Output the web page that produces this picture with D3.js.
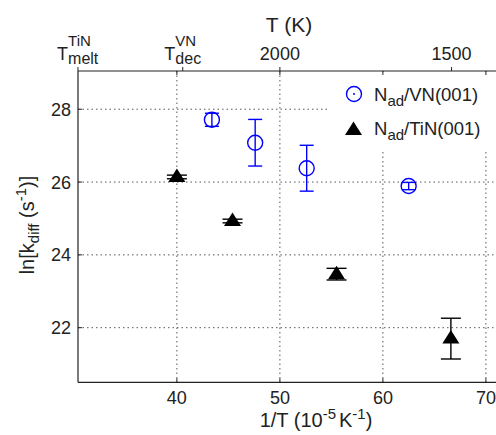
<!DOCTYPE html>
<html>
<head>
<meta charset="utf-8">
<script src="https://cdn.jsdelivr.net/npm/d3@7"></script>
<style>
body{margin:0;background:#fff;}
svg{display:block;font-family:"Liberation Sans",Arial,sans-serif;}
</style>
</head>
<body>
<svg id="chart" width="496" height="435"></svg>
<script>
// data
const inv_t_vn=[43.4,47.6,52.6,62.5];
const lnk_vn=[27.71,27.08,26.38,25.89];
const err_vn=[0.18,0.64,0.63,0.10];

const inv_t_tin=[40.0,45.4,55.5,66.6];
const lnk_tin=[26.14,24.93,23.47,21.70];
const err_tin=[0.05,0.05,0.16,0.56];

const x_ticks=[40,50,60,70];
const y_ticks=[22,24,26,28];
// top axis: temperatures (K)
const t_ticks=[3290,2465,2000,1500];
const t_labels=[["T","TiN","melt"],["T","VN","dec"],["2000"],["1500"]];

const svg=d3.select("#chart");
const plot_left=78, plot_top=71, plot_bottom=382.3, plot_right=509.6;

const x=d3.scaleLinear().domain([30.4,72.3]).range([plot_left,plot_right]);
const y=d3.scaleLinear().domain([20.5,29.05]).range([plot_bottom,plot_top]);

const ink="#222";
const grid_color="#444";
const small=15;

// grid
for (const t of x_ticks){
    svg.append("line")
        .attr("x1",x(t)).attr("x2",x(t))
        .attr("y1",plot_top).attr("y2",plot_bottom)
        .attr("stroke",grid_color).attr("stroke-width",0.9)
        .attr("stroke-dasharray","1.5,3");
}
for (const v of y_ticks){
    svg.append("line")
        .attr("x1",plot_left).attr("x2",plot_right)
        .attr("y1",y(v)).attr("y2",y(v))
        .attr("stroke",grid_color).attr("stroke-width",0.9)
        .attr("stroke-dasharray","1.5,3");
}

// legend background hides grid
svg.append("rect")
    .attr("x",330).attr("y",plot_top+1)
    .attr("width",200).attr("height",78)
    .attr("fill","#fff");

// spines
svg.append("line").attr("x1",plot_left).attr("x2",plot_left).attr("y1",plot_top).attr("y2",plot_bottom)
    .attr("stroke",ink).attr("stroke-width",1.2);
svg.append("line").attr("x1",plot_left).attr("x2",plot_right).attr("y1",plot_bottom).attr("y2",plot_bottom)
    .attr("stroke",ink).attr("stroke-width",1.2);
svg.append("line").attr("x1",plot_left).attr("x2",plot_right).attr("y1",plot_top).attr("y2",plot_top)
    .attr("stroke",ink).attr("stroke-width",1.2);

// bottom ticks + mirrored ticks on top
for (const t of x_ticks){
    svg.append("line").attr("x1",x(t)).attr("x2",x(t)).attr("y1",plot_bottom).attr("y2",plot_bottom-4)
        .attr("stroke",ink).attr("stroke-width",1);
    svg.append("line").attr("x1",x(t)).attr("x2",x(t)).attr("y1",plot_top).attr("y2",plot_top+4)
        .attr("stroke",ink).attr("stroke-width",1);
    svg.append("text").attr("x",x(t)).attr("y",plot_bottom+22)
        .attr("text-anchor","middle").attr("font-size",18).attr("fill",ink)
        .text(t);
}
for (const v of y_ticks){
    svg.append("line").attr("x1",plot_left).attr("x2",plot_left+4).attr("y1",y(v)).attr("y2",y(v))
        .attr("stroke",ink).attr("stroke-width",1);
    svg.append("text").attr("x",plot_left-7).attr("y",y(v)+6.5)
        .attr("text-anchor","end").attr("font-size",18).attr("fill",ink)
        .text(v);
}

// top axis in temperature
t_ticks.forEach((T,i)=>{
    const px=x(1e5/T);
    svg.append("line").attr("x1",px).attr("x2",px).attr("y1",plot_top).attr("y2",plot_top-4)
        .attr("stroke",ink).attr("stroke-width",1);
    const lab=t_labels[i];
    if (lab.length===1){
        svg.append("text").attr("x",px).attr("y",60)
            .attr("text-anchor","middle").attr("font-size",18).attr("fill",ink)
            .text(lab[0]);
    } else {
        const g=svg.append("g");
        const main=g.append("text").attr("x",0).attr("y",60)
            .attr("font-size",18).attr("fill",ink).text(lab[0]);
        const w=main.node().getComputedTextLength();
        g.append("text").attr("x",w).attr("y",46)
            .attr("font-size",small).attr("fill",ink).text(lab[1]);
        g.append("text").attr("x",w).attr("y",64)
            .attr("font-size",small+1).attr("fill",ink).text(lab[2]);
        const bb=g.node().getBBox();
        g.attr("transform","translate("+(px-bb.width/2)+",0)");
    }
});

// axis titles
svg.append("text").attr("x",289).attr("y",32)
    .attr("text-anchor","middle").attr("font-size",21).attr("fill",ink)
    .text("T (K)");

const xl=svg.append("text").attr("x",316).attr("y",427)
    .attr("text-anchor","middle").attr("font-size",20).attr("fill",ink);
xl.append("tspan").text("1/T (10");
xl.append("tspan").attr("dy",-8).attr("font-size",small).text("-5");
xl.append("tspan").attr("dy",8).attr("dx",3).text("K");
xl.append("tspan").attr("dy",-8).attr("font-size",small).text("-1");
xl.append("tspan").attr("dy",8).text(")");

const yl=svg.append("text").attr("transform","translate(34,225) rotate(-90)")
    .attr("text-anchor","middle").attr("font-size",20).attr("fill",ink);
yl.append("tspan").text("ln[k");
yl.append("tspan").attr("dy",5).attr("font-size",small).text("diff");
yl.append("tspan").attr("dy",-5).text(" (s");
yl.append("tspan").attr("dy",-8).attr("font-size",small).text("-1");
yl.append("tspan").attr("dy",8).text(")]");

// triangle marker path, offset so the data point sits a bit below the centre
function tri(cx,cy){
    return "M"+cx+","+(cy-8.5)+"L"+(cx+8.5)+","+(cy+5)+"L"+(cx-8.5)+","+(cy+5)+"Z";
}

function errbar(cx,v,e,cap,color){
    const y1=y(v-e), y2=y(v+e);
    svg.append("line").attr("x1",cx).attr("x2",cx).attr("y1",y1).attr("y2",y2)
        .attr("stroke",color).attr("stroke-width",1.4);
    for (const yy of [y1,y2]){
        svg.append("line").attr("x1",cx-cap/2).attr("x2",cx+cap/2).attr("y1",yy).attr("y2",yy)
            .attr("stroke",color).attr("stroke-width",1.4);
    }
}

// VN series
const blue="#0000ff";
inv_t_vn.forEach((t,i)=>{
    errbar(x(t),lnk_vn[i],err_vn[i],14,blue);
    svg.append("circle").attr("cx",x(t)).attr("cy",y(lnk_vn[i])).attr("r",7.5)
        .attr("fill","none").attr("stroke",blue).attr("stroke-width",1.4);
});

// TiN series
inv_t_tin.forEach((t,i)=>{
    errbar(x(t),lnk_tin[i],err_tin[i],20,"#000");
    svg.append("path").attr("d",tri(x(t),y(lnk_tin[i]))).attr("fill","#000");
});

// legend
svg.append("circle").attr("cx",354).attr("cy",94).attr("r",7.5)
    .attr("fill","none").attr("stroke",blue).attr("stroke-width",1.4);
svg.append("circle").attr("cx",354).attr("cy",94).attr("r",1)
    .attr("fill",blue);
svg.append("path").attr("d",tri(353.5,130)).attr("fill","#000");

const legend_names=[["N","ad","/VN(001)"],["N","ad","/TiN(001)"]];
legend_names.forEach((n,i)=>{
    const t=svg.append("text").attr("x",374).attr("y",100.5+i*34)
        .attr("font-size",18.5).attr("fill",ink);
    t.append("tspan").text(n[0]);
    t.append("tspan").attr("dy",5).attr("font-size",small).text(n[1]);
    t.append("tspan").attr("dy",-5).text(n[2]);
});
</script>
</body>
</html>
